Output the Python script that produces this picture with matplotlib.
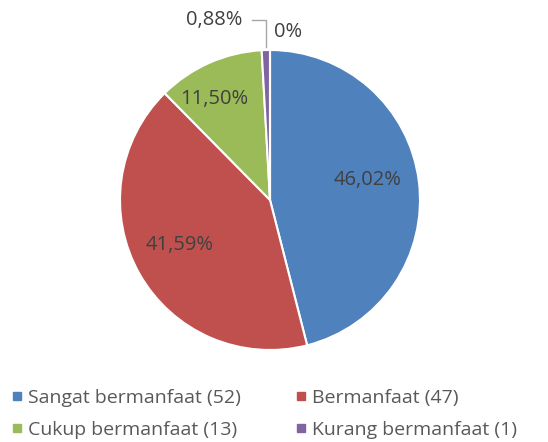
import matplotlib.pyplot as plt
import numpy as np

# data
labels = ["Sangat bermanfaat (52)", "Bermanfaat (47)", "Cukup bermanfaat (13)",
          "Kurang bermanfaat (1)", "Tidak bermanfaat (0)"]
counts = [52, 47, 13, 1, 0]
pct_text = ["46,02%", "41,59%", "11,50%", "0,88%", "0%"]
colors = ["#4F81BD", "#C0504D", "#9BBB59", "#8064A2", "#F79646"]

plt.rcParams['font.family'] = ['Open Sans', 'DejaVu Sans']
txt_color = "#404040"

fig = plt.figure(figsize=(5.48, 4.42), dpi=100)
ax = fig.add_axes([120 / 548, 92 / 442, 300 / 548, 300 / 442])

wedges, _ = ax.pie(counts, colors=colors, startangle=90, counterclock=False,
                   radius=1, wedgeprops=dict(edgecolor="white", linewidth=1.5))
ax.set_xlim(-1, 1)
ax.set_ylim(-1, 1)
ax.set_aspect("equal")

# label positions (offsets from centre, pie radius = 1)
label_pos = [(0.65, 0.13), (-0.6, -0.3), (-0.37, 0.67), (-0.37, 1.2), (0.12, 1.12)]
for t, (x, y) in zip(pct_text, label_pos):
    ax.text(x, y, t, ha="center", va="center", fontsize=14.5, color=txt_color,
            clip_on=False)

# leader line for the small slice
mid = np.deg2rad(90 - 360 * (sum(counts[:3]) + counts[3] / 2) / sum(counts))
lx = np.cos(mid)
ax.plot([-0.12, lx, lx], [1.2, 1.2, np.sin(mid) + 0.02], color="#A6A6A6",
        lw=1, clip_on=False)

# legend filled row by row like the original
order = [0, 2, 1, 3]
handles = [plt.Line2D([], [], marker="s", linestyle="", markersize=6,
                      markerfacecolor=colors[i], markeredgecolor=colors[i])
           for i in order]
leg = fig.legend(handles, [labels[i] for i in order], ncol=2, loc="lower left",
                 bbox_to_anchor=(-0.012, -0.033), frameon=False, fontsize=14,
                 handlelength=0.6, handletextpad=0.3, columnspacing=2.75,
                 labelspacing=0.72, labelcolor="#595959")

fig.savefig("out.png", dpi=100)
